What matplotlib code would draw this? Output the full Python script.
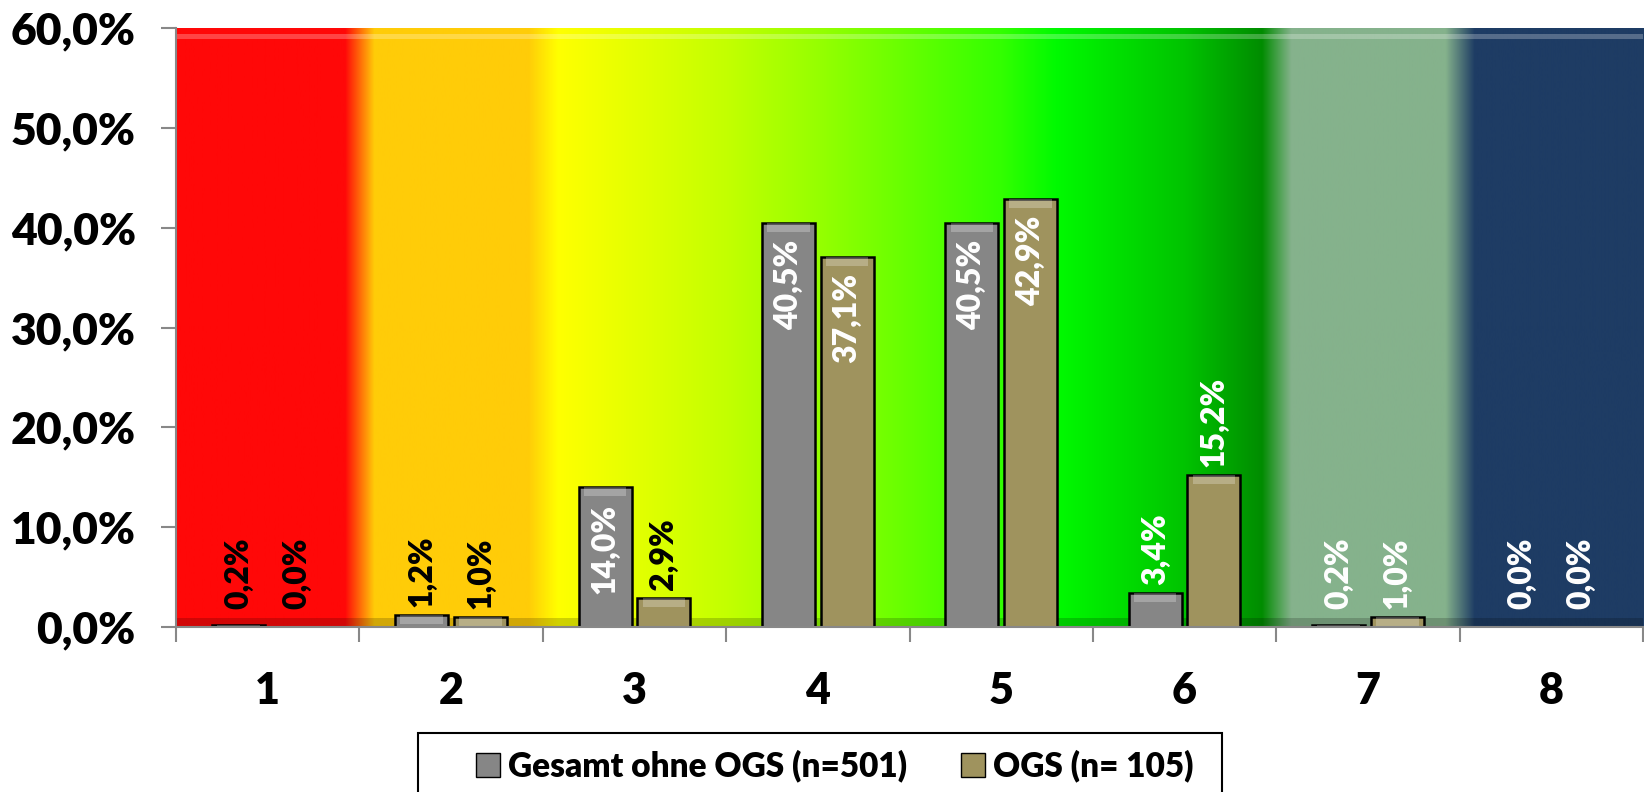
import numpy as np
import matplotlib
matplotlib.use("Agg")
import matplotlib.pyplot as plt
from matplotlib.patches import Patch, Rectangle

plt.rcParams['font.family'] = ['Lato', 'DejaVu Sans']
POIDS = 'heavy'
plt.rcParams['font.weight'] = POIDS

# Données
categories = ['1', '2', '3', '4', '5', '6', '7', '8']
gesamt = [0.2, 1.2, 14.0, 40.5, 40.5, 3.4, 0.2, 0.0]
ogs = [0.0, 1.0, 2.9, 37.1, 42.9, 15.2, 1.0, 0.0]
serie_noms = ['Gesamt ohne OGS (n=501)', 'OGS (n= 105)']
yticks = [0, 10, 20, 30, 40, 50, 60]

# Étiquettes dans la barre (True) ou au-dessus (False)
dedans_gesamt = [False, False, True, True, True, False, False, False]
dedans_ogs = [False, False, False, True, True, False, False, False]
couleur_lbl = ['black', 'black', 'black', 'white', 'white', 'white', 'white', 'white']

col_gris = '#868686'
col_beige = '#9f935e'

# Fond en bandes colorées (x, r, g, b)
arrets = [
    (0.5, 255, 8, 8), (1.42, 255, 8, 8), (1.58, 255, 204, 8), (2.42, 255, 204, 8),
    (2.58, 255, 255, 0), (3.0, 228, 255, 0), (3.5, 195, 255, 0), (4.0, 150, 255, 0),
    (4.5, 100, 255, 0), (5.0, 50, 255, 0), (5.3, 0, 250, 0), (6.0, 0, 195, 0),
    (6.42, 0, 140, 0), (6.58, 133, 178, 140), (7.42, 133, 178, 140),
    (7.58, 30, 60, 100), (8.5, 30, 60, 100),
]
arrets = np.array(arrets, dtype=float)
xs = np.linspace(0.5, 8.5, 1600)
fond = np.stack([np.interp(xs, arrets[:, 0], arrets[:, k]) for k in (1, 2, 3)], axis=-1) / 255
fond = fond[np.newaxis, :, :]

fig = plt.figure(figsize=(16.44, 7.92), dpi=100)
ax = fig.add_axes([176 / 1644, 1 - 627 / 792, (1643 - 176) / 1644, (627 - 28) / 792])

ax.imshow(fond, extent=[0.5, 8.5, 0, 60], aspect='auto', zorder=0)
ax.axhspan(0, 0.9, color='black', alpha=0.18, zorder=1, lw=0)
ax.axhspan(58.9, 59.4, color='white', alpha=0.25, zorder=1, lw=0)

x = np.arange(1, len(categories) + 1)
larg = 0.29
b1 = ax.bar(x - 0.16, gesamt, larg, color=col_gris, edgecolor='black', linewidth=1.8, zorder=3)
b2 = ax.bar(x + 0.16, ogs, larg, color=col_beige, edgecolor='black', linewidth=1.8, zorder=3)
# léger relief en haut des barres
ax.bar(x - 0.16, [min(v, 0.9) for v in gesamt], larg * 0.8, bottom=[v - min(v, 0.9) for v in gesamt],
       color='white', alpha=0.25, lw=0, zorder=3.5)
ax.bar(x + 0.16, [min(v, 0.9) for v in ogs], larg * 0.8, bottom=[v - min(v, 0.9) for v in ogs],
       color='white', alpha=0.25, lw=0, zorder=3.5)

def etiquettes(xpos, valeurs, dedans):
    for i, (xp, v) in enumerate(zip(xpos, valeurs)):
        txt = f"{v:.1f}%".replace('.', ',')
        if dedans[i]:
            ax.annotate(txt, (xp, v), xytext=(0, -12), textcoords='offset points',
                        rotation=90, ha='center', va='top', fontsize=23,
                        fontweight=POIDS, color='white', zorder=4)
        else:
            ax.annotate(txt, (xp, max(v, 1.0)), xytext=(0, 6), textcoords='offset points',
                        rotation=90, ha='center', va='bottom', fontsize=23,
                        fontweight=POIDS, color=couleur_lbl[i], zorder=4)

etiquettes(x - 0.16, gesamt, dedans_gesamt)
etiquettes(x + 0.16, ogs, dedans_ogs)

ax.set_xlim(0.5, 8.5)
ax.set_ylim(0, 60)
ax.set_yticks(yticks)
ax.set_yticklabels([f"{v:.1f}%".replace('.', ',') for v in yticks])
ax.set_xticks(x)
ax.set_xticklabels(categories)
ax.set_xticks(np.arange(0.5, 9.0, 1.0), minor=True)

ax.tick_params(axis='y', length=11, width=1.5, color='#888888', pad=18, labelsize=32)
ax.tick_params(axis='x', which='major', length=0, pad=32, labelsize=31)
ax.tick_params(axis='x', which='minor', length=11, width=1.5, color='#888888')
for lbl in ax.get_xticklabels() + ax.get_yticklabels():
    lbl.set_fontweight(POIDS)

for s in ['top', 'right']:
    ax.spines[s].set_visible(False)
for s in ['left', 'bottom']:
    ax.spines[s].set_color('#888888')
    ax.spines[s].set_linewidth(1.5)
    ax.spines[s].set_zorder(5)

# cadre de la légende (descend sous le bord de l'image)
fig.patches.append(Rectangle((418 / 1644, -0.05), (1222 - 418) / 1644, 1 - 733 / 792 + 0.05,
                             transform=fig.transFigure, facecolor='white',
                             edgecolor='black', linewidth=1.5))

poignees = [Patch(facecolor=col_gris, edgecolor='black'), Patch(facecolor=col_beige, edgecolor='black')]
leg = fig.legend(poignees, serie_noms, loc='center left', bbox_to_anchor=(476 / 1644, 1 - 766 / 792),
                 ncol=2, frameon=False, prop={'size': 24, 'weight': POIDS},
                 handlelength=0.72, handleheight=0.72, handletextpad=0.25, columnspacing=1.6,
                 borderpad=0, borderaxespad=0)

fig.savefig('out.png', dpi=100)
